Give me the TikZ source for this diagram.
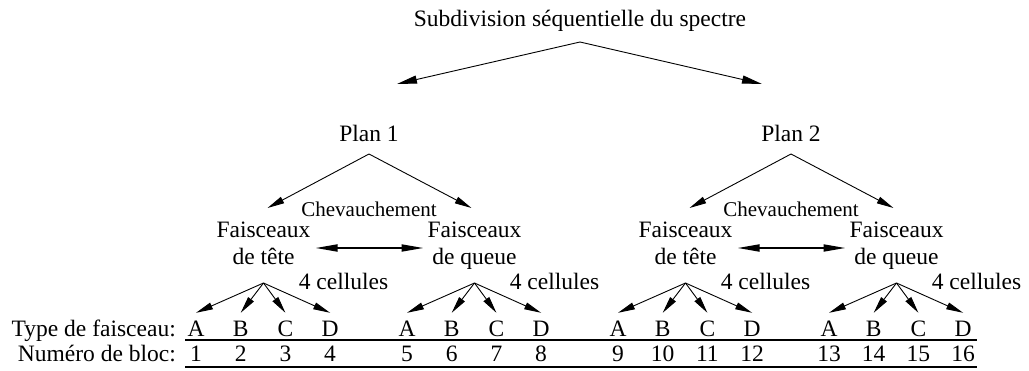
\documentclass[tikz,border=0pt]{standalone}
\usepackage{fontspec}
\setmainfont{Liberation Serif}
\usetikzlibrary{arrows.meta}

\begin{document}
\begin{tikzpicture}[x=1pt,y=-1pt]

    \tikzstyle{every node}=[font=\fontsize{23.5}{27}\selectfont, inner sep=0pt, anchor=base]
    \tikzstyle{arr}=[-{Triangle[length=17pt,width=7pt]}, line width=0.9pt]
    \tikzstyle{toparr}=[-{Triangle[length=20pt,width=8pt]}, line width=0.9pt]
    \tikzstyle{dblarr}=[{Triangle[length=22pt,width=7pt]}-{Triangle[length=22pt,width=7pt]}, line width=1.8pt]
    \tikzstyle{smalltext}=[font=\fontsize{21}{25}\selectfont]
    \tikzstyle{rule}=[line width=1.8pt]

    \useasboundingbox (0,0) rectangle (1029,371);

    % Define the title and the two plans
    \node (title) at (580,27) {Subdivision séquentielle du spectre};
    \coordinate (top) at (580,42);
    \node (plan1) at (369,142) {Plan 1};
    \node (plan2) at (791,142) {Plan 2};

    % Draw the arrows from the title
    \coordinate (tip1) at (397,84);
    \coordinate (tip2) at (762,84);
    \draw[toparr] (top) -- (tip1);
    \draw[toparr] (top) -- (tip2);

    % Define the groups of beams (tete / queue)
    \foreach \g/\txt in {0/de tête, 1/de queue, 2/de tête, 3/de queue} {
        \pgfmathsetmacro{\ax}{263.5+211*\g}
        \pgfmathsetmacro{\px}{\ax+4-7*mod(\g,2)}
        \pgfmathsetmacro{\dx}{\ax+52-103*mod(\g,2)}
        \coordinate (apex\g) at (\ax,283);
        \coordinate (ptip\g) at (\px,208);
        \coordinate (dtip\g) at (\dx,248);
        % base of a two-line node is the last line
        \node[align=center] (fais\g) at (\ax,265) {Faisceaux\\\txt};
        \node (cell\g) at (\ax+80,290) {4 cellules};
    }

    % Draw the arrows from each plan
    \coordinate (papex1) at (369,154);
    \coordinate (papex2) at (791,154);
    \draw[arr] (papex1) -- (ptip0);
    \draw[arr] (papex1) -- (ptip1);
    \draw[arr] (papex2) -- (ptip2);
    \draw[arr] (papex2) -- (ptip3);

    % Overlap between head and tail beams
    \node[smalltext] (chev1) at (369,217) {Chevauchement};
    \node[smalltext] (chev2) at (791,217) {Chevauchement};
    \draw[dblarr] (dtip0) -- (dtip1);
    \draw[dblarr] (dtip2) -- (dtip3);

    % Add labels for the rows
    \node[anchor=base east] (typelbl) at (176,337) {Type de faisceau:};
    \node[anchor=base east] (numlbl) at (176,362) {Numéro de bloc:};

    % Beam types and block numbers
    \foreach \g in {0,...,3}
        \foreach \i/\l in {0/A,1/B,2/C,3/D} {
            \pgfmathsetmacro{\lx}{196+211*\g+44.7*\i}
            \pgfmathtruncatemacro{\n}{4*\g+\i+1}
            \node[text height=24pt] (ltr\g\i) at (\lx,337) {\l};
            \node (num\g\i) at (\lx,362) {\n};
            \draw[arr] (apex\g) -- (ltr\g\i.north);
        }

    % Draw the rules under the rows
    \draw[rule] (185,340) -- (977,340);
    \draw[rule] (185,367) -- (977,367);
\end{tikzpicture}
\end{document}
